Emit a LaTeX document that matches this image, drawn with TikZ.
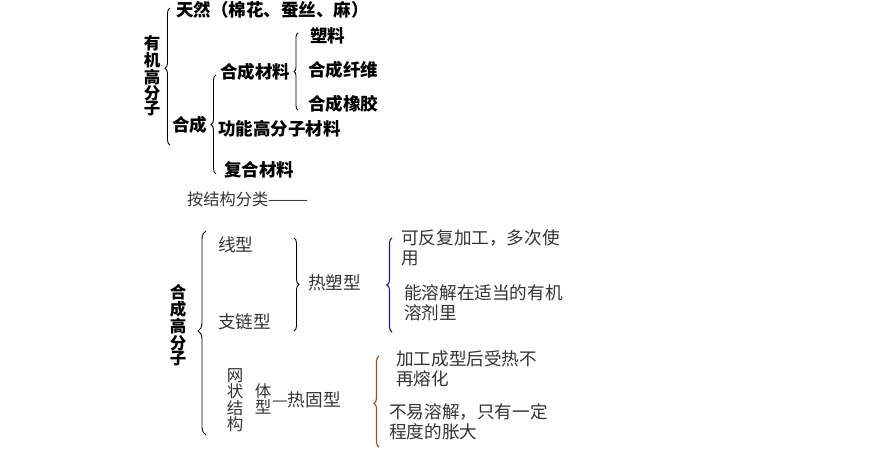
\documentclass[tikz,border=0pt]{standalone}
\usepackage{fontspec}
\newfontfamily\cjk{Noto Sans CJK SC}
\usetikzlibrary{decorations.pathreplacing}
\definecolor{navybr}{HTML}{1C1C8A}
\definecolor{brownbr}{HTML}{A04A12}
\begin{document}
\begin{tikzpicture}[x=1pt,y=-1pt,
  toptxt/.style={anchor=west,inner sep=0pt,font=\cjk\bfseries\fontsize{17.5}{17.5}\selectfont,text=black},
  bottxt/.style={anchor=west,inner sep=0pt,font=\cjk\fontsize{17.6}{20}\selectfont,text=black!80,align=left},
  vtop/.style={inner sep=0pt,align=center,font=\cjk\bfseries\fontsize{16.5}{15}\selectfont},
  vbot/.style={inner sep=0pt,align=center,font=\cjk\fontsize{16.5}{16.5}\selectfont,text=black!80},
  brc/.style={decorate,decoration={brace,amplitude=#1},line width=0.9pt},
  brc/.default=5pt]
\useasboundingbox (0,0) rectangle (892,467);
% ---- top part ----
\node[vtop] (yj) at (152,76) {有\\机\\高\\分\\子};
\coordinate (b1t) at (170,8);
\coordinate (b1b) at (170,145);
\draw[brc=5pt,decoration={aspect=0.56}] (b1b) -- (b1t);
\node[toptxt] (tr) at (176,10) {天然（棉花、蚕丝、麻）};
\node[toptxt] (hc) at (172,125) {合成};
\coordinate (b2t) at (216,75);
\coordinate (b2b) at (216,174);
\draw[brc=5pt,decoration={aspect=0.5}] (b2b) -- (b2t);
\node[toptxt] (hccl) at (220,72) {合成材料};
\node[toptxt] (gn) at (218,129) {功能高分子材料};
\node[toptxt] (fh) at (224,170) {复合材料};
\coordinate (b3t) at (298,33);
\coordinate (b3b) at (298,110);
\draw[brc=4pt,decoration={aspect=0.5}] (b3b) -- (b3t);
\node[toptxt] (sl) at (310,36) {塑料};
\node[toptxt] (xw) at (308,70) {合成纤维};
\node[toptxt] (xj) at (308,104) {合成橡胶};
% ---- bottom part ----
\node[bottxt,font=\cjk\fontsize{16.2}{20}\selectfont] (aj) at (187,199) {按结构分类———};
\node[vtop] (hg) at (178,325) {合\\成\\高\\分\\子};
\coordinate (b4t) at (206,231);
\coordinate (b4b) at (206,435);
\draw[brc=8pt,decoration={aspect=0.51}] (b4b) -- (b4t);
\node[bottxt] (xx) at (218,245) {线型};
\node[bottxt] (zl) at (218,322) {支链型};
\coordinate (b5t) at (294,238);
\coordinate (b5b) at (294,331);
\draw[brc=5pt,decoration={aspect=0.5}] (b5t) -- (b5b);
\node[bottxt] (rs) at (308,283) {热塑型};
\node[vbot] (wz) at (235,400) {网\\状\\结\\构};
\node[vbot] (tx) at (263,399) {体\\型};
\node[bottxt] (rg) at (272,400) {—热固型};
\coordinate (b6t) at (392,238);
\coordinate (b6b) at (392,332);
\draw[brc=5pt,decoration={aspect=0.5},navybr,line width=1.1pt] (b6b) -- (b6t);
\node[bottxt] (kf) at (401,248) {可反复加工，多次使\\用};
\node[bottxt] (nr) at (404,303) {能溶解在适当的有机\\溶剂里};
\coordinate (b7t) at (379,356);
\coordinate (b7b) at (379,447);
\draw[brc=5pt,decoration={aspect=0.48},brownbr,line width=1.1pt] (b7b) -- (b7t);
\node[bottxt] (jg) at (396,369) {加工成型后受热不\\再熔化};
\node[bottxt] (by) at (389,422) {不易溶解，只有一定\\程度的胀大};
\end{tikzpicture}
\end{document}
